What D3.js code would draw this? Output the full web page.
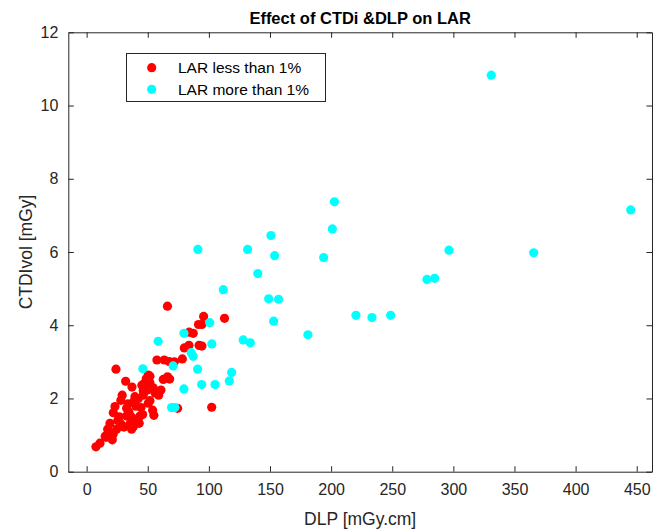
<!DOCTYPE html>
<html><head><meta charset="utf-8">
<script src="https://cdn.jsdelivr.net/npm/d3@7"></script>
<style>body{margin:0;background:#fff}svg{display:block}text{font-family:"Liberation Sans",Arial,sans-serif}</style>
</head><body>
<svg id="c" width="654" height="531"></svg>
<script>
const title = "Effect of CTDi &DLP on LAR";
const xLabel = "DLP [mGy.cm]";
const yLabel = "CTDIvol [mGy]";
const seriesNames = ["LAR less than 1%", "LAR more than 1%"];
const xTicks = [0,50,100,150,200,250,300,350,400,450];
const yTicks = [0,2,4,6,8,10,12];
const xDomain = [-15, 462.5];
const yDomain = [0, 12];
// LAR less than 1% : [DLP, CTDIvol]
const redDLP  = [7.6,10.9,15.2,15.8,21.0,21.8,17.2,19.1,24.5,21.8,23.2,26.7,28.1,32.7,34.6,36.8,32.7,35.4,38.2,36.8,43.0,45.8,40.3,38.7,42.2,46.3,50.4,51.8,54.0,55.0,29.1,31.9,37.1,45.2,46.6,49.6,53.2,54.5,47.1,51.8,48.8,50.4,51.8,24.0,57.5,63.5,67.5,71.8,78.3,60.8,62.7,66.2,67.9,79.9,83.7,92.0,94.3,83.9,87.2,91.5,94.3,95.7,112.8,66.1,74.4,102.3,46.3,43.6,58.9,28.0,25.5,30.5,41.0,44.5,56.0,39.5,33.8];
const redCTDI = [0.68,0.78,0.97,0.94,0.87,1.03,1.16,1.32,1.16,1.61,1.78,1.50,1.30,1.73,1.63,1.49,1.52,1.30,1.23,1.16,1.32,1.56,1.79,1.92,1.99,2.09,1.87,1.94,1.68,1.54,2.09,2.47,2.31,2.36,2.28,2.23,2.27,2.29,2.41,2.43,2.54,2.64,2.61,2.80,3.05,3.05,3.01,3.00,3.08,2.23,2.52,2.59,2.53,3.38,3.45,3.45,3.43,3.81,3.78,4.02,4.02,4.24,4.19,4.52,1.73,1.76,2.21,1.52,2.09,1.95,1.40,1.22,1.42,1.75,2.15,2.05,1.85];
// LAR more than 1%
const cyanDLP  = [331,445.1,202.7,201,150.8,91,131.7,153.8,193.9,296.4,365.7,140,278.4,284.7,111.8,148.9,157,220.3,233.4,248.7,153,100.7,181,79.6,128.1,133.9,102.4,58.5,85.5,87.1,70.8,46,90.8,118.6,116.7,105,94.1,79.6,69.5,72.2];
const cyanCTDI = [10.83,7.15,7.37,6.63,6.45,6.07,6.07,5.90,5.85,6.05,5.98,5.41,5.25,5.28,4.97,4.72,4.71,4.27,4.21,4.27,4.11,4.07,3.74,3.78,3.60,3.52,3.49,3.56,3.25,3.15,2.89,2.81,2.80,2.71,2.48,2.38,2.38,2.26,1.75,1.75];
const colors = ["#ff0000", "#00ffff"];

const svg = d3.select("#c");
const L = 68.3, R = 652, T = 32.3, B = 471.7;
const x = d3.scaleLinear().domain(xDomain).range([L, R]);
const y = d3.scaleLinear().domain(yDomain).range([B, T]);
const axisColor = "#262626";
const tickLen = 5.5;

const series = [
  {name: seriesNames[0], color: colors[0], pts: redDLP.map((d,i)=>[d, redCTDI[i]])},
  {name: seriesNames[1], color: colors[1], pts: cyanDLP.map((d,i)=>[d, cyanCTDI[i]])}
];

const plot = svg.append("g");
series.forEach(s => {
  plot.selectAll(null).data(s.pts).enter().append("circle")
    .attr("cx", d => x(d[0])).attr("cy", d => y(d[1])).attr("r", 4.6)
    .attr("fill", s.color);
});

function styleAxis(g){
  g.selectAll("path").attr("stroke", axisColor).attr("stroke-width", 1);
  g.selectAll("line").attr("stroke", axisColor).attr("stroke-width", 1);
  g.selectAll("text").attr("fill", axisColor).style("font-size", "16px").attr("font-family", '"Liberation Sans",Arial,sans-serif');
}
const xb = svg.append("g").attr("transform", `translate(0,${B})`)
  .call(d3.axisBottom(x).tickValues(xTicks).tickSizeInner(-tickLen).tickSizeOuter(0).tickPadding(12));
styleAxis(xb);
const xt = svg.append("g").attr("transform", `translate(0,${T})`)
  .call(d3.axisTop(x).tickValues(xTicks).tickSizeInner(-tickLen).tickSizeOuter(0).tickFormat(""));
styleAxis(xt);
const yl = svg.append("g").attr("transform", `translate(${L},0)`)
  .call(d3.axisLeft(y).tickValues(yTicks).tickSizeInner(-tickLen).tickSizeOuter(0).tickPadding(10));
styleAxis(yl);
const yr = svg.append("g").attr("transform", `translate(${R},0)`)
  .call(d3.axisRight(y).tickValues(yTicks).tickSizeInner(-tickLen).tickSizeOuter(0).tickFormat(""));
styleAxis(yr);

svg.append("text").attr("x", (L+R)/2).attr("y", 24).attr("text-anchor","middle")
  .style("font-size","16.5px").style("font-weight","bold").attr("fill","#000").text(title);
svg.append("text").attr("x", (L+R)/2).attr("y", 525).attr("text-anchor","middle")
  .style("font-size","17.5px").attr("fill", axisColor).text(xLabel);
svg.append("text").attr("transform", `translate(32,${(T+B)/2}) rotate(-90)`).attr("text-anchor","middle")
  .style("font-size","17.5px").attr("fill", axisColor).text(yLabel);

// legend
const lg = svg.append("g");
lg.append("rect").attr("x",126.5).attr("y",53.5).attr("width",199).attr("height",48)
  .attr("fill","#fff").attr("stroke", axisColor).attr("stroke-width",1);
series.forEach((s,i) => {
  const cy = 67.7 + i*21.6;
  lg.append("circle").attr("cx",151.7).attr("cy",cy).attr("r",4.6).attr("fill",s.color);
  lg.append("text").attr("x",178).attr("y",cy+5.5).style("font-size","15.5px").attr("fill","#000").text(s.name);
});
</script>
</body></html>
